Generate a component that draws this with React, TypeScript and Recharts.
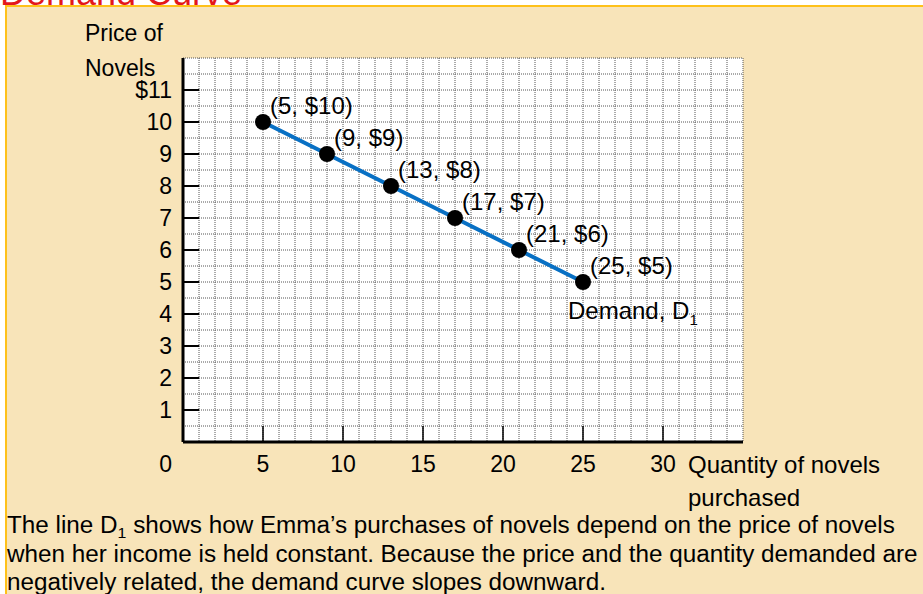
import React from 'react';
import { LineChart, Line, XAxis, YAxis, CartesianGrid, LabelList } from 'recharts';

const QUANTITY = [5, 9, 13, 17, 21, 25];
const PRICE = [10, 9, 8, 7, 6, 5];
const X_LABELS = [0, 5, 10, 15, 20, 25, 30];
const Y_LABELS = [1, 2, 3, 4, 5, 6, 7, 8, 9, 10, 11];
const X_MAX = 35;
const Y_MAX = 12;

// grid lines: every quantity unit, every half dollar
const X_GRID = Array.from({ length: X_MAX + 1 }, (_, i) => i);
const Y_GRID = Array.from({ length: Y_MAX * 2 + 1 }, (_, i) => i / 2);

const CAPTION = [
  'shows how Emma’s purchases of novels depend on the price of novels',
  'when her income is held constant. Because the price and the quantity demanded are',
  'negatively related, the demand curve slopes downward.',
];

const data = QUANTITY.map((q, i) => ({ q, p: PRICE[i] }));

const FONT = '"Liberation Sans", Arial, sans-serif';
const FS = 23;

const XTick = (props: any) => {
  const { x, y, payload } = props;
  const v = payload.value;
  if (!X_LABELS.includes(v)) return <g />;
  if (v === 0) {
    return (
      <text x={x - 11} y={y + 22} dy="0.35em" textAnchor="end" fontSize={FS} fontFamily={FONT} fill="#000">
        0
      </text>
    );
  }
  return (
    <g>
      <line x1={x} y1={y} x2={x} y2={y - 16} stroke="#000" strokeWidth={1.5} />
      <text x={x} y={y + 22} dy="0.35em" textAnchor="middle" fontSize={FS} fontFamily={FONT} fill="#000">
        {v}
      </text>
    </g>
  );
};

const YTick = (props: any) => {
  const { x, y, payload } = props;
  const v = payload.value;
  if (!Y_LABELS.includes(v)) return <g />;
  return (
    <g>
      <line x1={x} y1={y} x2={x + 16} y2={y} stroke="#000" strokeWidth={2} />
      <text x={x - 11} y={y} dy="0.35em" textAnchor="end" fontSize={FS} fontFamily={FONT} fill="#000">
        {v === 11 ? '$11' : v}
      </text>
    </g>
  );
};

const PointLabel = (props: any) => {
  const { x, y, index } = props;
  const q = QUANTITY[index];
  const p = PRICE[index];
  return (
    <g>
      <text x={x + 7} y={y - 8} fontSize={24} fontFamily={FONT} fill="#000">
        ({q}, ${p})
      </text>
      {index === QUANTITY.length - 1 && (
        <text x={x - 15} y={y + 37} fontSize={24} fontFamily={FONT} fill="#000">
          Demand, D
          <tspan fontSize={15} dy={6}>1</tspan>
        </text>
      )}
    </g>
  );
};

const Dot = (props: any) => {
  const { cx, cy } = props;
  return <circle cx={cx} cy={cy} r={8} fill="#000" />;
};

const textStyle: React.CSSProperties = {
  position: 'absolute',
  fontFamily: FONT,
  fontSize: FS,
  color: '#000',
  lineHeight: 1,
  whiteSpace: 'nowrap',
};

const captionStyle: React.CSSProperties = {
  ...textStyle,
  left: 7,
  transform: 'scaleX(1.055)',
  transformOrigin: 'left',
};

export default function App() {
  return (
    <div style={{ position: 'absolute', left: 0, top: 0, width: 923, height: 594, overflow: 'hidden', background: '#fff' }}>
      <div
        style={{
          position: 'absolute',
          left: 0,
          top: -25,
          fontFamily: FONT,
          fontSize: 36,
          lineHeight: 1,
          color: '#E3171B',
          whiteSpace: 'nowrap',
        }}
      >
        Demand Curve
      </div>
      <div
        style={{
          position: 'absolute',
          left: 5,
          top: 5,
          width: 940,
          height: 620,
          background: '#F8E4B9',
          borderTop: '2px solid #FEC11A',
          borderLeft: '2px solid #FEC11A',
        }}
      />
      <div style={{ ...textStyle, left: 85, top: 22 }}>Price of</div>
      <div style={{ ...textStyle, left: 85, top: 57 }}>Novels</div>
      <div style={{ ...textStyle, left: 688, top: 453, fontSize: 24 }}>Quantity of novels</div>
      <div style={{ ...textStyle, left: 688, top: 486, fontSize: 24 }}>purchased</div>
      <div style={{ ...captionStyle, top: 514 }}>
        The line D<sub style={{ fontSize: 15, verticalAlign: -5, lineHeight: 0 }}>1</sub> {CAPTION[0]}
      </div>
      <div style={{ ...captionStyle, top: 543 }}>{CAPTION[1]}</div>
      <div style={{ ...captionStyle, top: 571 }}>{CAPTION[2]}</div>
      <div style={{ position: 'absolute', left: 0, top: 0 }}>
        <LineChart width={923} height={594} data={data} margin={{ top: 58, right: 180, left: 123, bottom: 122 }}>
          <CartesianGrid
            fill="#fff"
            fillOpacity={1}
            stroke="#555"
            strokeDasharray="1 1"
            strokeWidth={1}
          />
          <XAxis
            dataKey="q"
            type="number"
            domain={[0, X_MAX]}
            ticks={X_GRID}
            interval={0}
            height={30}
            tickSize={0}
            tickMargin={0}
            tickLine={false}
            axisLine={{ stroke: '#000', strokeWidth: 3 }}
            tick={<XTick />}
          />
          <YAxis
            dataKey="p"
            type="number"
            domain={[0, Y_MAX]}
            ticks={Y_GRID}
            interval={0}
            width={60}
            tickSize={0}
            tickMargin={0}
            tickLine={false}
            axisLine={{ stroke: '#000', strokeWidth: 3 }}
            tick={<YTick />}
          />
          <Line
            dataKey="p"
            stroke="#0870C4"
            strokeWidth={4}
            dot={<Dot />}
            activeDot={false}
            isAnimationActive={false}
          >
            <LabelList dataKey="p" content={<PointLabel />} />
          </Line>
        </LineChart>
      </div>
    </div>
  );
}
